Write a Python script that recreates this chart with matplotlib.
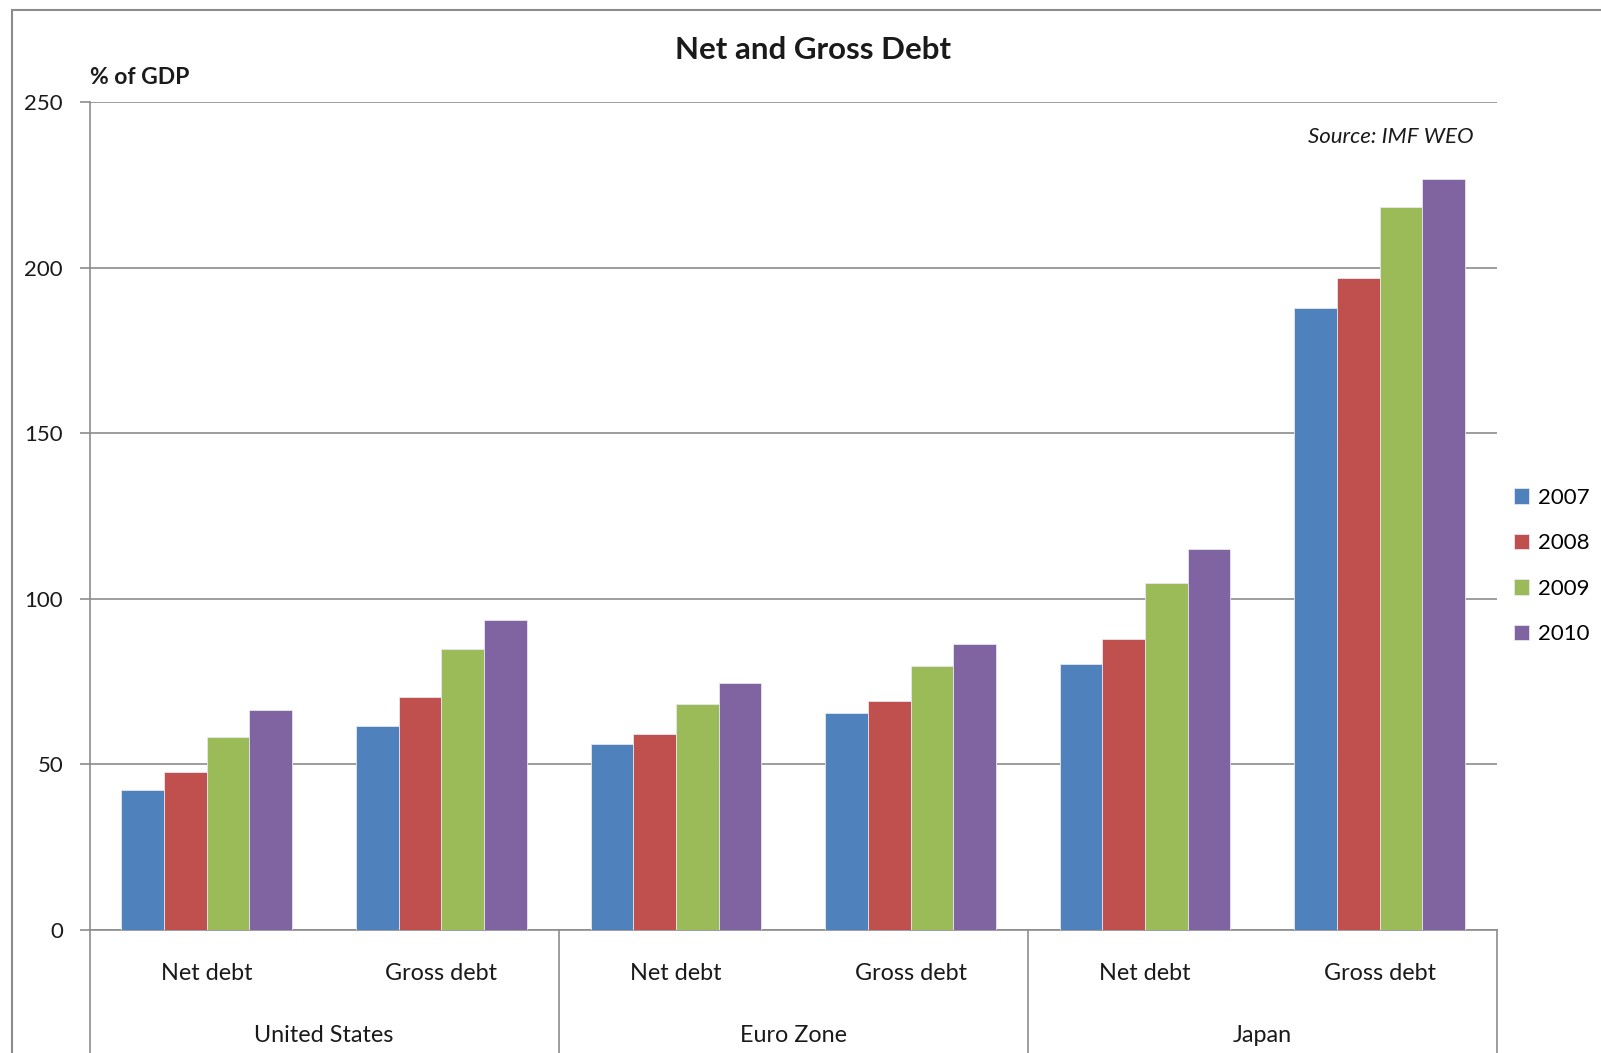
import matplotlib
matplotlib.use("Agg")
import matplotlib.pyplot as plt
import matplotlib.transforms as mtransforms
from matplotlib.patches import Rectangle
import numpy as np

plt.rcParams['font.family'] = ['Lato', 'DejaVu Sans']

# Data (% of GDP)
regions = ["United States", "Euro Zone", "Japan"]
measures = ["Net debt", "Gross debt"]
years = ["2007", "2008", "2009", "2010"]
values_2007 = [42.2, 61.5, 56.1, 65.4, 80.3, 187.7]
values_2008 = [47.6, 70.4, 59.1, 69.0, 87.8, 196.9]
values_2009 = [58.2, 84.7, 68.3, 79.8, 104.7, 218.4]
values_2010 = [66.5, 93.7, 74.5, 86.3, 114.9, 226.8]
y_ticks = [0, 50, 100, 150, 200, 250]

series = [values_2007, values_2008, values_2009, values_2010]
colors = ["#4F81BD", "#C0504D", "#9BBB59", "#8064A2"]
grid_col = "#8C8C8C"
text_col = "#1A1A1A"

W, H = 1601, 1053
fig = plt.figure(figsize=(W / 100, H / 100), dpi=100)
fig.patch.set_facecolor("white")

# Chart frame
fig.patches.append(Rectangle((12 / W, -0.1), 1.2, 1 - 10 / H + 0.1,
                             transform=fig.transFigure, fill=False,
                             edgecolor="#8C8C8C", linewidth=1.5))

left, right, top, bottom = 89.5, 1497, 102, 930
ax = fig.add_axes([left / W, 1 - bottom / H, (right - left) / W, (bottom - top) / H])

n_cat = len(regions) * len(measures)
bar_w = 1 / 5.5
x_centers = np.arange(n_cat) + 0.5
for k, (vals, col) in enumerate(zip(series, colors)):
    ax.bar(x_centers + (k - 1.5) * bar_w, vals, width=bar_w, color=col,
           edgecolor="#E6E6F0", linewidth=0.6, label=years[k], zorder=3)

ax.set_xlim(0, n_cat)
ax.set_ylim(0, 250)
ax.set_yticks(y_ticks)
ax.set_yticklabels([str(t) for t in y_ticks], fontsize=16, color=text_col)
ax.tick_params(axis="y", length=7, width=1.2, color=grid_col, pad=12)
ax.tick_params(axis="x", length=0, labelbottom=False)
ax.yaxis.grid(True, color=grid_col, linewidth=1.2, zorder=0)
ax.set_axisbelow(True)
for s in ["top", "right"]:
    ax.spines[s].set_visible(False)
for s in ["left", "bottom"]:
    ax.spines[s].set_color(grid_col)
    ax.spines[s].set_linewidth(1.2)

# Multi-level category axis
trans = mtransforms.blended_transform_factory(ax.transData, ax.transAxes)
for xb in [0, 2, 4, 6]:
    ax.plot([xb, xb], [0, -0.3], transform=trans, color=grid_col,
            linewidth=1.2, clip_on=False, zorder=1)
for i in range(n_cat):
    ax.text(x_centers[i], -0.053, measures[i % 2], transform=trans,
            ha="center", va="center", fontsize=16.8, color=text_col)
for j, reg in enumerate(regions):
    ax.text(2 * j + 1, -0.128, reg, transform=trans,
            ha="center", va="center", fontsize=16.8, color=text_col)

# Titles and annotations
fig.text(813 / W, 1 - 50 / H, "Net and Gross Debt", ha="center", va="center",
         fontsize=22.5, fontweight="bold", color=text_col)
fig.text(90 / W, 1 - 78 / H, "% of GDP", ha="left", va="center",
         fontsize=16.5, fontweight="bold", color=text_col)
fig.text(1474 / W, 1 - 137 / H, "Source: IMF WEO", ha="right", va="center",
         fontsize=16, fontstyle="italic", color=text_col)

# Legend
leg = fig.legend(loc="center left", bbox_to_anchor=(1505 / W, 1 - 566 / H),
                 frameon=False, fontsize=16, handlelength=0.7, handleheight=0.7,
                 handletextpad=0.4, labelspacing=1.15, borderaxespad=0)

fig.savefig("out.png", dpi=100)
